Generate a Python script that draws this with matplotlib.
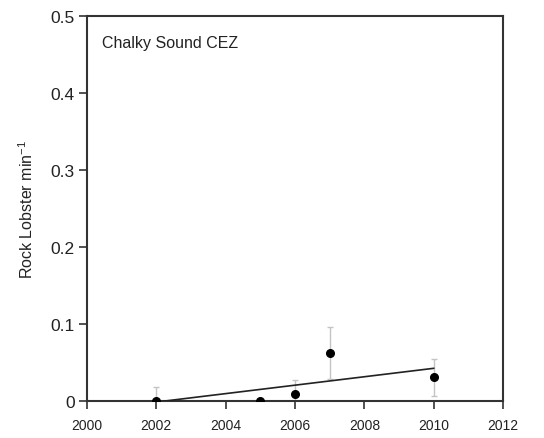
import matplotlib
matplotlib.use('Agg')
import matplotlib.pyplot as plt
import numpy as np

plt.rcParams['font.family'] = ['Liberation Sans', 'DejaVu Sans']
plt.rcParams['mathtext.default'] = 'regular'

# survey years and mean catch rates with standard errors
years = [2002, 2005, 2006, 2007, 2010]
rate = [0.0, 0.0, 0.0096, 0.062, 0.031]
rate_se = [0.018, 0.0, 0.017, 0.034, 0.024]

site = 'Chalky Sound CEZ'
x_ticks = [2000, 2002, 2004, 2006, 2008, 2010, 2012]
y_ticks = [0, 0.1, 0.2, 0.3, 0.4, 0.5]
y_tick_labels = ['0', '0.1', '0.2', '0.3', '0.4', '0.5']


def main():
    fig = plt.figure(figsize=(5.44, 4.39), dpi=100)
    ax = fig.add_axes([0.16, 0.0843, 0.7646, 0.8777])

    ax.errorbar(years, rate, yerr=rate_se, fmt='none', ecolor='#c4c4c4',
                elinewidth=1.0, capsize=2.5, capthick=1.0, zorder=2)
    ax.plot(years, rate, 'o', color='black', markersize=5.5, zorder=4)

    # linear trend across the survey years
    slope, intercept = np.polyfit(years, rate, 1)
    xs = np.array([years[0], years[-1]])
    ax.plot(xs, slope * xs + intercept, color='#222222', linewidth=1.2, zorder=3)

    ax.set_xlim(2000, 2012)
    ax.set_ylim(0, 0.5)
    ax.set_xticks(x_ticks)
    ax.set_yticks(y_ticks)
    ax.set_yticklabels(y_tick_labels)
    ax.tick_params(axis='x', labelsize=10, length=6, width=1.2, color='#333333',
                   labelcolor='#222222', pad=6)
    ax.tick_params(axis='y', labelsize=12.5, length=6, width=1.2, color='#333333',
                   labelcolor='#222222', pad=3)
    for s in ax.spines.values():
        s.set_linewidth(1.5)
        s.set_color('#333333')
    ax.spines['bottom'].set_clip_on(False)

    ax.set_ylabel('Rock Lobster min$^{-1}$', fontsize=11.5, labelpad=10, color='#222222')
    ax.text(0.035, 0.93, site, transform=ax.transAxes, fontsize=11.5, va='center',
            color='#222222')

    fig.savefig('out.png', dpi=100)


if __name__ == '__main__':
    main()
